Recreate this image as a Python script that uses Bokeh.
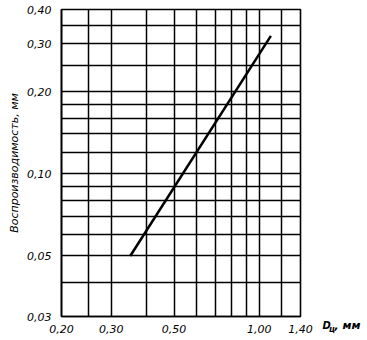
from bokeh.plotting import figure
from bokeh.layouts import row
from bokeh.models import FixedTicker, Label, Range1d
from bokeh.embed import file_html
from bokeh.resources import INLINE

# data (log-log)
diameter_mm = [0.35, 1.10]
reproducibility_mm = [0.050, 0.32]

x_tick_values = [0.20, 0.30, 0.50, 1.00, 1.40]
x_tick_labels = ["0,20", "0,30", "0,50", "1,00", "1,40"]
y_tick_values = [0.03, 0.05, 0.10, 0.20, 0.30, 0.40]
y_tick_labels = ["0,03", "0,05", "0,10", "0,20", "0,30", "0,40"]
x_grid_values = [0.20, 0.25, 0.30, 0.40, 0.50, 0.60, 0.70, 0.80, 0.90, 1.00, 1.20, 1.40]
y_grid_values = [0.03, 0.04, 0.05, 0.06, 0.07, 0.08, 0.09, 0.10, 0.12, 0.14,
                 0.16, 0.18, 0.20, 0.25, 0.30, 0.35, 0.40]
y_axis_title = "Воспроизводимость, мм"
x_axis_title = ("D", "ц", ", мм")

FONT = "DejaVu Sans"

p = figure(width=317, height=340, x_axis_type="log", y_axis_type="log",
           x_range=Range1d(0.2, 1.4), y_range=Range1d(0.03, 0.4),
           output_backend="svg", toolbar_location=None,
           min_border_left=61, min_border_right=17, min_border_top=9, min_border_bottom=24)

p.outline_line_color = "black"
p.outline_line_width = 1.6

for ax, ticks, labels in ((p.xaxis, x_tick_values, x_tick_labels),
                          (p.yaxis, y_tick_values, y_tick_labels)):
    ax.ticker = FixedTicker(ticks=ticks)
    ax.major_label_overrides = {t: l for t, l in zip(ticks, labels)}
    ax.major_tick_line_color = None
    ax.minor_tick_line_color = None
    ax.axis_line_color = "black"
    ax.axis_line_width = 1.6
    ax.major_label_text_font = FONT
    ax.major_label_text_font_style = "italic"
    ax.major_label_text_font_size = "11px"
    ax.major_label_text_color = "black"
p.xaxis.major_label_standoff = 2
p.yaxis.major_label_standoff = 4

p.yaxis.axis_label = y_axis_title
p.yaxis.axis_label_text_font = FONT
p.yaxis.axis_label_text_font_style = "italic"
p.yaxis.axis_label_text_font_size = "11px"
p.yaxis.axis_label_text_color = "black"
p.yaxis.axis_label_standoff = 3

p.xgrid.ticker = FixedTicker(ticks=x_grid_values)
p.ygrid.ticker = FixedTicker(ticks=y_grid_values)
for g in (p.xgrid, p.ygrid):
    g.grid_line_color = "black"
    g.grid_line_width = 1.5
    g.grid_line_alpha = 1.0

p.line(diameter_mm, reproducibility_mm, line_color="black", line_width=2.5)

# narrow side panel holding the x-axis title (placed beside the tick labels)
t = figure(width=50, height=340, x_range=Range1d(0, 50), y_range=Range1d(340, 0),
           x_axis_location=None, y_axis_location=None, output_backend="svg",
           toolbar_location=None, min_border=0, outline_line_color=None)
if "frame_align" in t.properties():
    t.frame_align = False
t.xgrid.visible = False
t.ygrid.visible = False
t.add_layout(Label(x=5, y=325, text=x_axis_title[0], text_font=FONT,
                   text_font_style="bold italic", text_font_size="10px",
                   text_baseline="middle", text_color="black"))
t.add_layout(Label(x=11.5, y=328.5, text=x_axis_title[1], text_font=FONT,
                   text_font_style="bold italic", text_font_size="8px",
                   text_baseline="middle", text_color="black"))
t.add_layout(Label(x=17, y=325, text=x_axis_title[2], text_font=FONT,
                   text_font_style="bold italic", text_font_size="11px",
                   text_baseline="middle", text_color="black"))

layout = row(p, t)
open("out.html", "w").write(file_html(layout, INLINE))
